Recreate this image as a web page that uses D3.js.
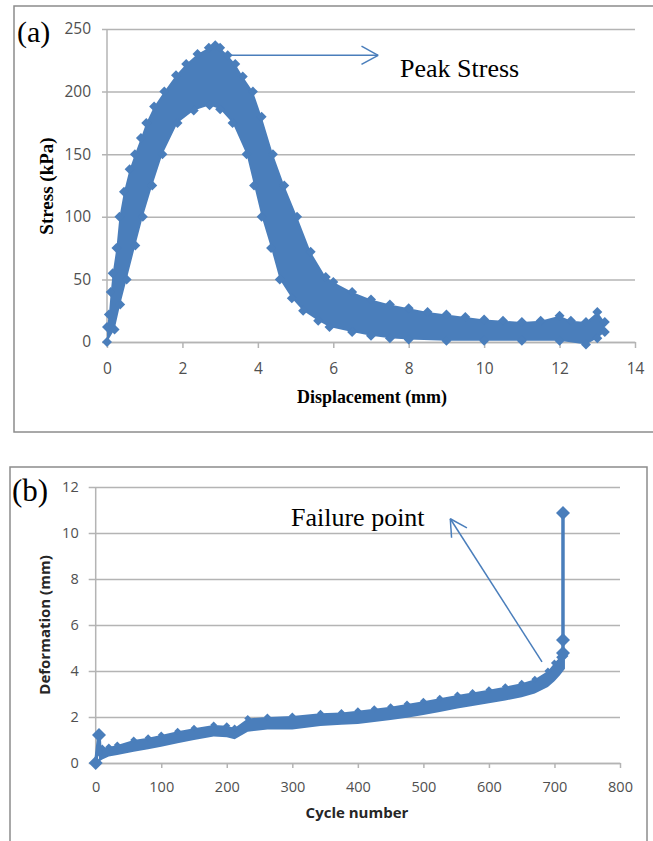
<!DOCTYPE html>
<html><head><meta charset="utf-8">
<script src="https://cdn.jsdelivr.net/npm/d3@7"></script>
<style>html,body{margin:0;padding:0;background:#fff}</style>
</head><body>
<svg id="c" width="653" height="841" xmlns="http://www.w3.org/2000/svg"></svg>
<script>
// ---------- Panel (a): stress vs displacement (dense scatter band) ----------
const dispTicks = [0, 2, 4, 6, 8, 10, 12, 14];
const stressTicks = [0, 50, 100, 150, 200, 250];
// upper edge of the scatter band
const dispUpper   = [0, 0.05, 0.1, 0.15, 0.25, 0.33, 0.45, 0.6, 0.74, 0.9, 1.04, 1.25, 1.52, 1.83, 2.1, 2.4, 2.7, 2.87, 3.0, 3.2, 3.4, 3.6, 3.87, 4.1, 4.4, 4.7, 5.04, 5.4, 5.8, 6.0, 6.5, 7.0, 7.5, 8.0, 8.5, 9.0, 9.5, 10.0, 10.5, 11.0, 11.5, 12.0, 12.3, 12.7, 13.0, 13.2];
const stressUpper = [12, 22, 40, 55, 75, 100, 120, 138, 150, 163, 175, 188, 200, 213, 222, 230, 235, 237, 235, 229, 222, 212, 200, 180, 150, 125, 100, 72, 52, 48, 40, 34, 30, 27, 24, 22, 20, 18, 17, 16, 17, 21, 17, 16, 24, 16];
// lower edge of the scatter band
const dispLower   = [0, 0.2, 0.35, 0.52, 0.75, 0.95, 1.2, 1.47, 1.87, 2.3, 2.72, 3.0, 3.33, 3.7, 3.9, 4.1, 4.35, 4.58, 4.9, 5.2, 5.6, 5.9, 6.5, 7.0, 7.5, 8.0, 9.0, 10.0, 11.0, 12.0, 12.7, 13.0, 13.2];
const stressLower = [0, 10, 30, 50, 77, 100, 125, 150, 175, 185, 189, 186, 175, 150, 125, 100, 75, 50, 35, 25, 17, 12, 8, 5, 3, 2, 1, 1, 1, 1, -2, 3, 8];
const peakArrow = {from: [3.26, 229], to: [7.19, 229]};
const peakLabel = {text: "Peak Stress", at: [7.77, 211.5]};

// ---------- Panel (b): deformation vs cycle number ----------
const cycleTicks = [0, 100, 200, 300, 400, 500, 600, 700, 800];
const deformTicks = [0, 2, 4, 6, 8, 10, 12];
const cycleBand  = [5, 10, 20, 33, 58, 80, 100, 125, 150, 180, 200, 212, 232, 262, 300, 343, 375, 400, 425, 450, 475, 500, 525, 552, 575, 600, 625, 650, 670, 690, 700, 708, 716];
const deformUpper = [0.45, 0.65, 0.7, 0.78, 1.0, 1.1, 1.22, 1.38, 1.51, 1.65, 1.62, 1.52, 1.94, 2.0, 2.04, 2.16, 2.2, 2.27, 2.36, 2.45, 2.57, 2.69, 2.82, 2.96, 3.06, 3.18, 3.32, 3.47, 3.64, 4.0, 4.35, 4.6, 4.65];
const deformLower = [0.05, 0.15, 0.28, 0.35, 0.49, 0.6, 0.71, 0.86, 1.0, 1.15, 1.12, 1.03, 1.36, 1.46, 1.46, 1.61, 1.66, 1.7, 1.78, 1.87, 1.97, 2.09, 2.22, 2.37, 2.48, 2.6, 2.72, 2.86, 3.02, 3.3, 3.55, 3.8, 4.1];
const startCycles = [0, 5, 7];
const startDeform = [0, 1.22, 0.3];
const endCycles = [705, 713, 713, 713];
const endDeform = [4.2, 4.78, 5.35, 10.87];
const failArrow = {from: [681, 4.4], to: [541, 10.62]};
const failLabel = {text: "Failure point", at: [298, 10.29]};

// ---------- drawing ----------
const BLUE = "#4a7ebb", GRID = "#b4b4b4", BORDER = "#8c8c8c";
const svg = d3.select("#c");
const tickFont = "'Open Sans', 'Liberation Sans', sans-serif";
const serif = "'Liberation Serif', 'Times New Roman', serif";

function diamond(r) {
  return `M0,${-r}L${r},0L0,${r}L${-r},0Z`;
}

function arrow(g, p0, p1, head) {
  const ang = Math.atan2(p1[1] - p0[1], p1[0] - p0[0]);
  g.append("line").attr("x1", p0[0]).attr("y1", p0[1]).attr("x2", p1[0]).attr("y2", p1[1])
    .attr("stroke", BLUE).attr("stroke-width", 1.5);
  [-0.5, 0.5].forEach(a => {
    g.append("line").attr("x1", p1[0]).attr("y1", p1[1])
      .attr("x2", p1[0] - head * Math.cos(ang + a)).attr("y2", p1[1] - head * Math.sin(ang + a))
      .attr("stroke", BLUE).attr("stroke-width", 1.5);
  });
}

function styleAxis(g) {
  g.selectAll(".domain").attr("stroke", GRID).attr("stroke-width", 1.5);
  g.selectAll(".tick line").attr("stroke", GRID).attr("stroke-width", 1.5);
}

// ===== Panel (a) =====
svg.append("rect").attr("x", 14).attr("y", 6).attr("width", 660).attr("height", 426)
  .attr("fill", "none").attr("stroke", BORDER).attr("stroke-width", 1.5);

const xA = d3.scaleLinear().domain([0, 14]).range([107, 635]);
const yA = d3.scaleLinear().domain([0, 250]).range([342, 29]);

const gA = svg.append("g");
const yAxA = gA.append("g").attr("transform", `translate(${xA(0)},0)`)
  .call(d3.axisLeft(yA).tickValues(stressTicks).tickSizeInner(-(xA(14) - xA(0))).tickSizeOuter(0).tickPadding(16));
yAxA.selectAll(".tick line").attr("x1", -5);
styleAxis(yAxA);
yAxA.selectAll("text").attr("font-family", tickFont).attr("font-size", 15.5).attr("fill", "#505050");
yAxA.select(".domain").remove();
gA.append("line").attr("x1", xA(0)).attr("x2", xA(0)).attr("y1", yA(0)).attr("y2", yA(250))
  .attr("stroke", GRID).attr("stroke-width", 1.5);
const xAxA = gA.append("g").attr("transform", `translate(0,${yA(0)})`)
  .call(d3.axisBottom(xA).tickValues(dispTicks).tickSizeInner(6).tickSizeOuter(0).tickPadding(15));
styleAxis(xAxA);
xAxA.selectAll("text").attr("font-family", tickFont).attr("font-size", 15.5).attr("fill", "#505050");

const upA = dispUpper.map((d, i) => [d, stressUpper[i]]);
const loA = dispLower.map((d, i) => [d, stressLower[i]]);
const lineA = d3.line().x(d => xA(d[0])).y(d => yA(d[1]));
gA.append("path").attr("d", lineA(upA.concat(loA.slice().reverse())) + "Z").attr("fill", BLUE);
gA.selectAll("path.mA").data(upA.concat(loA)).join("path").attr("class", "mA")
  .attr("d", diamond(5)).attr("transform", d => `translate(${xA(d[0])},${yA(d[1])})`).attr("fill", BLUE);

svg.append("text").attr("x", 372).attr("y", 403).attr("text-anchor", "middle")
  .attr("font-family", serif).attr("font-weight", "bold").attr("font-size", 19)
  .attr("textLength", 150).attr("lengthAdjust", "spacingAndGlyphs").text("Displacement (mm)");
svg.append("text").attr("transform", "translate(53,186) rotate(-90)").attr("text-anchor", "middle")
  .attr("font-family", serif).attr("font-weight", "bold").attr("font-size", 19).text("Stress (kPa)");
svg.append("text").attr("x", 17).attr("y", 42).attr("font-family", serif).attr("font-size", 30).text("(a)");

arrow(svg.append("g"), [xA(peakArrow.from[0]), yA(peakArrow.from[1])], [xA(peakArrow.to[0]), yA(peakArrow.to[1])], 19);
svg.append("text").attr("x", xA(peakLabel.at[0])).attr("y", yA(peakLabel.at[1]))
  .attr("font-family", serif).attr("font-size", 26).text(peakLabel.text);

// ===== Panel (b) =====
svg.append("rect").attr("x", 10).attr("y", 467).attr("width", 637).attr("height", 400)
  .attr("fill", "none").attr("stroke", BORDER).attr("stroke-width", 1.5);

const xB = d3.scaleLinear().domain([0, 800]).range([95.7, 620]);
const yB = d3.scaleLinear().domain([0, 12]).range([763, 487]);
const gB = svg.append("g");
const yAxB = gB.append("g").attr("transform", `translate(${xB(0)},0)`)
  .call(d3.axisLeft(yB).tickValues(deformTicks).tickSizeInner(-(xB(800) - xB(0))).tickSizeOuter(0).tickPadding(17));
yAxB.selectAll(".tick line").attr("x1", -7);
styleAxis(yAxB);
yAxB.selectAll("text").attr("font-family", tickFont).attr("font-size", 14.5).attr("fill", "#505050");
yAxB.select(".domain").remove();
gB.append("line").attr("x1", xB(0)).attr("x2", xB(0)).attr("y1", yB(0)).attr("y2", yB(12))
  .attr("stroke", GRID).attr("stroke-width", 1.5);
const xAxB = gB.append("g").attr("transform", `translate(0,${yB(0)})`)
  .call(d3.axisBottom(xB).tickValues(cycleTicks).tickSizeInner(5).tickSizeOuter(0).tickPadding(14));
styleAxis(xAxB);
xAxB.selectAll("text").attr("font-family", tickFont).attr("font-size", 14.5).attr("fill", "#505050");

const lineB = d3.line().x(d => xB(d[0])).y(d => yB(d[1]));
const upB = cycleBand.map((c, i) => [c, deformUpper[i]]);
const loB = cycleBand.map((c, i) => [c, deformLower[i]]);
gB.append("path").attr("d", lineB(upB.concat(loB.slice().reverse())) + "Z").attr("fill", BLUE);
gB.selectAll("path.spk").data(upB).join("path").attr("class", "spk")
  .attr("d", diamond(3.5)).attr("transform", d => `translate(${xB(d[0])},${yB(d[1])})`).attr("fill", BLUE);
const st = startCycles.map((c, i) => [c, startDeform[i]]);
const en = endCycles.map((c, i) => [c, endDeform[i]]);
[st, en].forEach(s => gB.append("path").attr("d", lineB(s)).attr("fill", "none")
  .attr("stroke", BLUE).attr("stroke-width", 3.5));
gB.selectAll("path.mB").data([st[0], st[1], en[1], en[2], en[3]]).join("path").attr("class", "mB")
  .attr("d", diamond(7)).attr("transform", d => `translate(${xB(d[0])},${yB(d[1])})`).attr("fill", BLUE);

svg.append("text").attr("x", 357).attr("y", 818).attr("text-anchor", "middle")
  .attr("font-family", tickFont).attr("font-weight", "bold").attr("font-size", 15).attr("fill", "#262626")
  .text("Cycle number");
svg.append("text").attr("transform", "translate(50,625) rotate(-90)").attr("text-anchor", "middle")
  .attr("font-family", tickFont).attr("font-weight", "bold").attr("font-size", 15).attr("fill", "#262626")
  .text("Deformation (mm)");
svg.append("text").attr("x", 12).attr("y", 501).attr("font-family", serif).attr("font-size", 31).text("(b)");

arrow(svg.append("g"), [xB(failArrow.from[0]), yB(failArrow.from[1])], [xB(failArrow.to[0]), yB(failArrow.to[1])], 19);
svg.append("text").attr("x", xB(failLabel.at[0])).attr("y", yB(failLabel.at[1]))
  .attr("font-family", serif).attr("font-size", 26).text(failLabel.text);
</script></body></html>
